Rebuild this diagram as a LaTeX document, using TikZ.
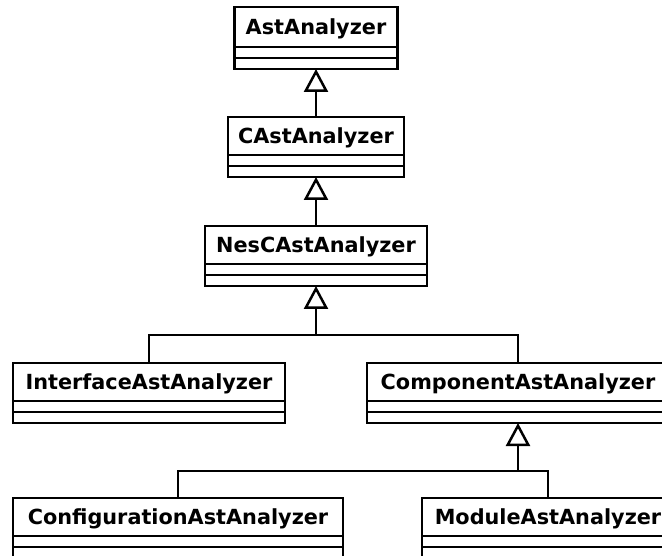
\documentclass[tikz,border=0pt]{standalone}
\usepackage{fontspec}
\setmainfont{DejaVu Sans}
\usetikzlibrary{positioning,arrows.meta}

\tikzset{
	classname/.style={draw, line width=2.5pt, inner sep=0pt, outer sep=0pt, minimum height=38pt,
		text height=15.2pt, text depth=0pt, font=\bfseries\fontsize{20.8}{24}\selectfont},
	classpart/.style={draw, line width=2.5pt, inner sep=0pt, outer sep=0pt, minimum height=11pt},
	inherit/.style={line width=2.5pt, -{Triangle[open, length=23pt, width=24pt, line width=2.5pt]}},
	link/.style={line width=2.5pt, line join=miter}
}

\begin{document}
\begin{tikzpicture}[x=1pt, y=-1pt, node distance=0pt]
		\clip (0,0) rectangle (662,556);
		% classes
		\node[classname, minimum width=163, minimum height=40] (ast) at (316,27) {AstAnalyzer};
		\node[classpart, minimum width=163, below=of ast] (ast1) {};
		\node[classpart, minimum width=163, below=of ast1] (ast2) {};
		\node[classname, minimum width=176] (cast) at (316,136) {CAstAnalyzer};
		\node[classpart, minimum width=176, below=of cast] (cast1) {};
		\node[classpart, minimum width=176, below=of cast1] (cast2) {};
		\node[classname, minimum width=222] (nes) at (316,245) {NesCAstAnalyzer};
		\node[classpart, minimum width=222, below=of nes] (nes1) {};
		\node[classpart, minimum width=222, below=of nes1] (nes2) {};
		\node[classname, minimum width=272] (iface) at (149,382) {InterfaceAstAnalyzer};
		\node[classpart, minimum width=272, below=of iface] (iface1) {};
		\node[classpart, minimum width=272, below=of iface1] (iface2) {};
		\node[classname, minimum width=302] (comp) at (518,382) {ComponentAstAnalyzer};
		\node[classpart, minimum width=302, below=of comp] (comp1) {};
		\node[classpart, minimum width=302, below=of comp1] (comp2) {};
		\node[classname, minimum width=330] (config) at (178,517) {ConfigurationAstAnalyzer};
		\node[classpart, minimum width=330, below=of config] (config1) {};
		\node[classpart, minimum width=330, below=of config1] (config2) {};
		\node[classname, minimum width=252] (module) at (548,517) {ModuleAstAnalyzer};
		\node[classpart, minimum width=252, below=of module] (module1) {};
		\node[classpart, minimum width=252, below=of module1] (module2) {};
		% generalisations
		\draw[inherit] (cast.north) -- (ast2.south);
		\draw[inherit] (nes.north) -- (cast2.south);
		\coordinate (nesjoin) at (316,335);
		\draw[inherit] (nesjoin) -- (nes2.south);
		\draw[link] (iface.north) |- (nesjoin) -| (comp.north);
		\coordinate (compjoin) at (518,471);
		\draw[inherit] (compjoin) -- (comp2.south);
		\draw[link] (config.north) |- (compjoin) -| (module.north);
	\end{tikzpicture}
\end{document}
